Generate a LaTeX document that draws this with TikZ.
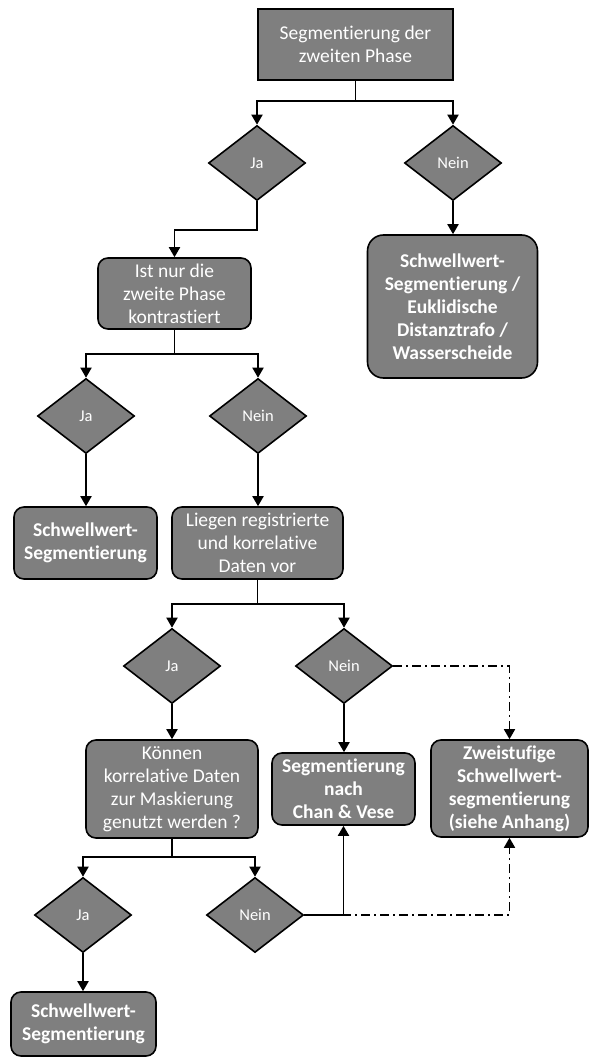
\documentclass[tikz,border=0pt]{standalone}
\usepackage{fontspec}
\setmainfont[Ligatures={NoCommon,NoContextual}]{Carlito}
\usetikzlibrary{shapes.geometric,arrows.meta}
\definecolor{boxgray}{HTML}{7F7F7F}
\tikzset{
  base/.style={draw=black, line width=1.6pt, fill=boxgray, text=white, align=center, inner sep=0pt},
  plainbox/.style={base, rectangle, font=\fontsize{19.5}{23}\selectfont},
  roundbox/.style={base, rectangle, rounded corners=10pt, font=\fontsize{19.5}{23}\selectfont},
  resultbox/.style={base, rectangle, rounded corners=10pt, font=\fontsize{19.5}{23}\selectfont\bfseries},
  decision/.style={base, diamond, minimum width=97pt, minimum height=75pt, font=\fontsize{16.5}{19}\selectfont},
  line/.style={line width=1.9pt},
  arr/.style={line, -{Triangle[length=10pt,width=11pt]}},
  dd/.style={line width=1.7pt, dash pattern=on 9pt off 4pt on 2pt off 4pt, -{Triangle[length=10pt,width=11pt]}},
}
\begin{document}
\begin{tikzpicture}[x=1pt,y=-1pt]
\useasboundingbox (0,0) rectangle (592,1059);

\node[plainbox, minimum width=195pt, minimum height=71pt] (top) at (355.5,44.5) {Segmentierung der\\zweiten Phase};
\node[decision] (ja1) at (257,163) {Ja};
\node[decision] (nein1) at (453,163) {Nein};
\node[resultbox, rounded corners=16pt, minimum width=170pt, minimum height=143pt] (rb) at (452.5,306.5) {Schwellwert-\\Segmentierung /\\Euklidische\\Distanztrafo /\\Wasserscheide};
\node[roundbox, minimum width=153pt, minimum height=71pt] (ist) at (174.5,293.5) {Ist nur die\\zweite Phase\\kontrastiert};
\node[decision] (ja2) at (86,416) {Ja};
\node[decision] (nein2) at (258,416) {Nein};
\node[resultbox, minimum width=143pt, minimum height=72pt] (sw2) at (85.5,543) {Schwellwert-\\Segmentierung};
\node[roundbox, minimum width=171pt, minimum height=72pt] (liegen) at (257.5,543) {Liegen registrierte\\und korrelative\\Daten vor};
\node[decision] (ja3) at (172,666) {Ja};
\node[decision] (nein3) at (344,666) {Nein};
\node[roundbox, minimum width=172pt, minimum height=98pt] (koennen) at (172,789) {Können\\korrelative Daten\\zur Maskierung\\genutzt werden ?};
\node[resultbox, minimum width=143pt, minimum height=72pt] (chan) at (343.5,789) {Segmentierung\\nach\\Chan \& Vese};
\node[resultbox, minimum width=157pt, minimum height=97pt] (zwei) at (509.5,788.5) {Zweistufige\\Schwellwert-\\segmentierung\\(siehe Anhang)};
\node[decision] (ja4) at (83,915) {Ja};
\node[decision] (nein4) at (255,915) {Nein};
\node[resultbox, minimum width=145pt, minimum height=64pt] (sw3) at (83.5,1024) {Schwellwert-\\Segmentierung};

\coordinate (b1) at (355.5,101);
\coordinate (b2) at (174.5,354);
\coordinate (b3) at (257.5,604);
\coordinate (b4) at (172,857);

\draw[line] (top.south) -- (b1);
\draw[arr] (b1) -| (ja1.north);
\draw[arr] (b1) -| (nein1.north);
\draw[arr] (ja1.south) -- ++(0,29) -| (ist.north);
\draw[arr] (nein1.south) -- (nein1.south |- rb.north);

\draw[line] (ist.south) -- (b2);
\draw[arr] (b2) -| (ja2.north);
\draw[arr] (b2) -| (nein2.north);
\draw[arr] (ja2.south) -- (ja2.south |- sw2.north);
\draw[arr] (nein2.south) -- (nein2.south |- liegen.north);

\draw[line] (liegen.south) -- (b3);
\draw[arr] (b3) -| (ja3.north);
\draw[arr] (b3) -| (nein3.north);
\draw[arr] (ja3.south) -- (ja3.south |- koennen.north);
\draw[arr] (nein3.south) -- (nein3.south |- chan.north);
\draw[dd] (nein3.east) -| (zwei.north);

\draw[line] (koennen.south) -- (b4);
\draw[arr] (b4) -| (ja4.north);
\draw[arr] (b4) -| (nein4.north);
\draw[arr] (ja4.south) -- (ja4.south |- sw3.north);
\draw[arr] (nein4.east) -| (chan.south);
\draw[dd] (nein4.east) -| (zwei.south);
\end{tikzpicture}
\end{document}
